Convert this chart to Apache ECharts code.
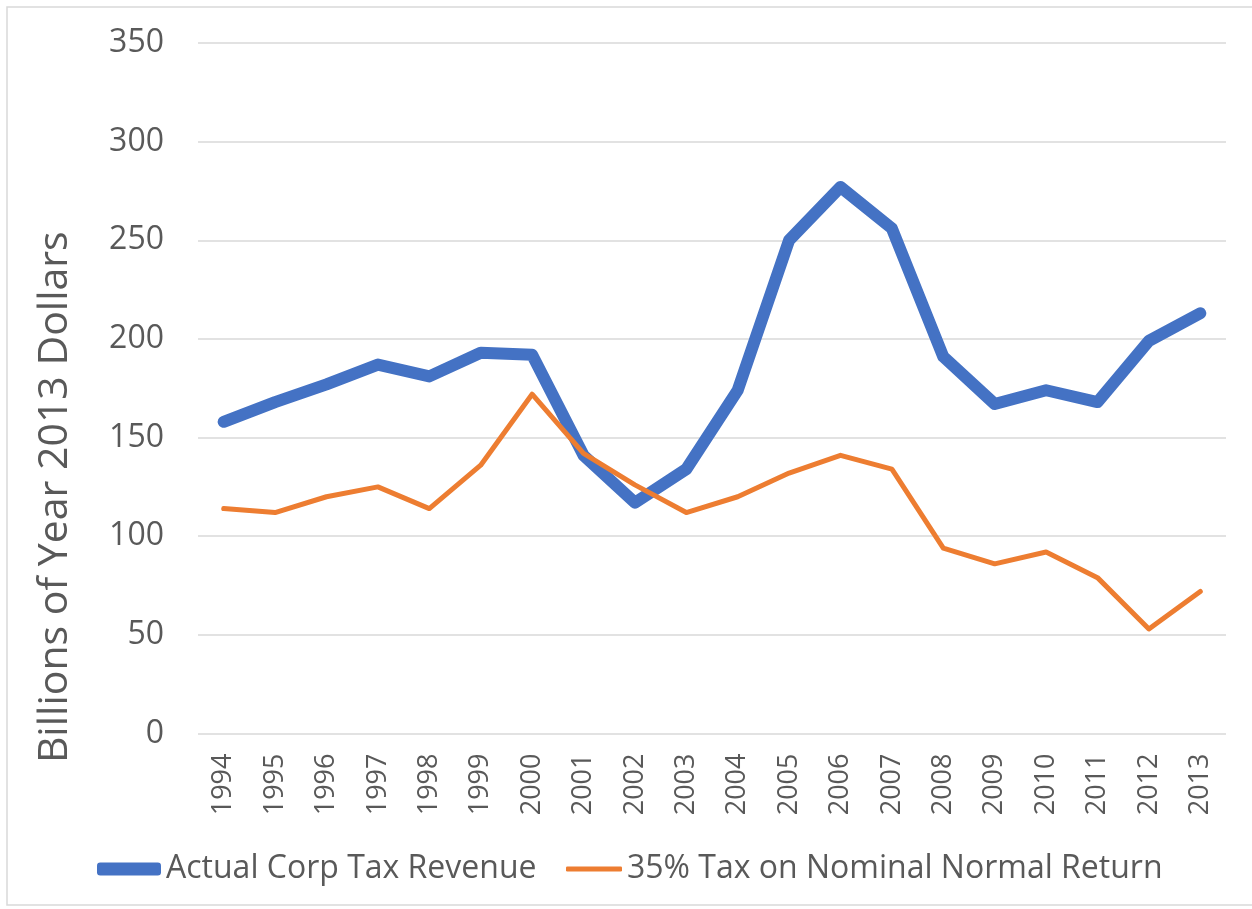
<!DOCTYPE html>
<html lang="en">
<head>
    <meta charset="UTF-8">
    <title>Corp Tax Revenue</title>
    <script src="https://cdn.jsdelivr.net/npm/echarts@6/dist/echarts.min.js"></script>
    <style>
        html, body { margin: 0; padding: 0; background: #fff; }
    </style>
</head>
<body>
    <div id="chart" style="width:1252px;height:909px;"></div>
    <script>
        var years = ['1994','1995','1996','1997','1998','1999','2000','2001','2002','2003',
                     '2004','2005','2006','2007','2008','2009','2010','2011','2012','2013'];
        var actualRevenue = [158,168,177,187,181,193,192,141,117,134,174,250,277,256,191,167,174,168,199,213];
        var normalReturnTax = [114,112,120,125,114,136,172,142,126,112,120,132,141,134,94,86,92,79,53,72];
        var yTicks = { min: 0, max: 350, interval: 50 };

        var font = '"Open Sans", "DejaVu Sans", sans-serif';
        var grey = '#595959';
        var blue = '#4472C4';
        var orange = '#ED7D31';

        var myChart = echarts.init(document.getElementById('chart'));

        var option = {
            backgroundColor: '#fff',
            animation: false,
            textStyle: { fontFamily: font },
            graphic: [{
                type: 'rect',
                shape: { x: 7, y: 7, width: 1260, height: 898 },
                style: { fill: 'none', stroke: '#D9D9D9', lineWidth: 1.5 },
                silent: true
            }],
            legend: [{
                data: ['Actual Corp Tax Revenue'],
                left: 92,
                top: 848,
                icon: 'roundRect',
                itemWidth: 64,
                itemHeight: 13,
                textStyle: { color: grey, fontSize: 32, fontFamily: font }
            }, {
                data: ['35% Tax on Nominal Normal Return'],
                left: 561,
                top: 848,
                icon: 'roundRect',
                itemWidth: 56,
                itemHeight: 5,
                textStyle: { color: grey, fontSize: 32, fontFamily: font }
            }],
            grid: {
                left: 198,
                right: 26,
                top: 43,
                bottom: 175.5,
                containLabel: false
            },
            xAxis: {
                type: 'category',
                data: years,
                boundaryGap: true,
                axisLine: { show: false },
                axisTick: { show: false },
                axisLabel: {
                    rotate: 90,
                    margin: 20,
                    color: grey,
                    fontSize: 27,
                    fontFamily: font,
                    interval: 0
                }
            },
            yAxis: {
                type: 'value',
                min: yTicks.min,
                max: yTicks.max,
                interval: yTicks.interval,
                name: 'Billions of Year 2013 Dollars',
                nameLocation: 'middle',
                nameGap: 122,
                nameTextStyle: {
                    color: grey,
                    fontSize: 41,
                    fontFamily: font,
                    padding: [0, 218, 0, 0]
                },
                axisLine: { show: false },
                axisTick: { show: false },
                axisLabel: { color: grey, fontSize: 32, fontFamily: font, margin: 34 },
                splitLine: { lineStyle: { color: '#D9D9D9', width: 1.5 } }
            },
            series: [{
                name: 'Actual Corp Tax Revenue',
                type: 'line',
                data: actualRevenue,
                showSymbol: false,
                symbol: 'none',
                itemStyle: { color: blue },
                lineStyle: { color: blue, width: 12, join: 'round', cap: 'round' }
            }, {
                name: '35% Tax on Nominal Normal Return',
                type: 'line',
                data: normalReturnTax,
                showSymbol: false,
                symbol: 'none',
                itemStyle: { color: orange },
                lineStyle: { color: orange, width: 5, join: 'round', cap: 'round' }
            }]
        };

        myChart.setOption(option);
    </script>
</body>
</html>
